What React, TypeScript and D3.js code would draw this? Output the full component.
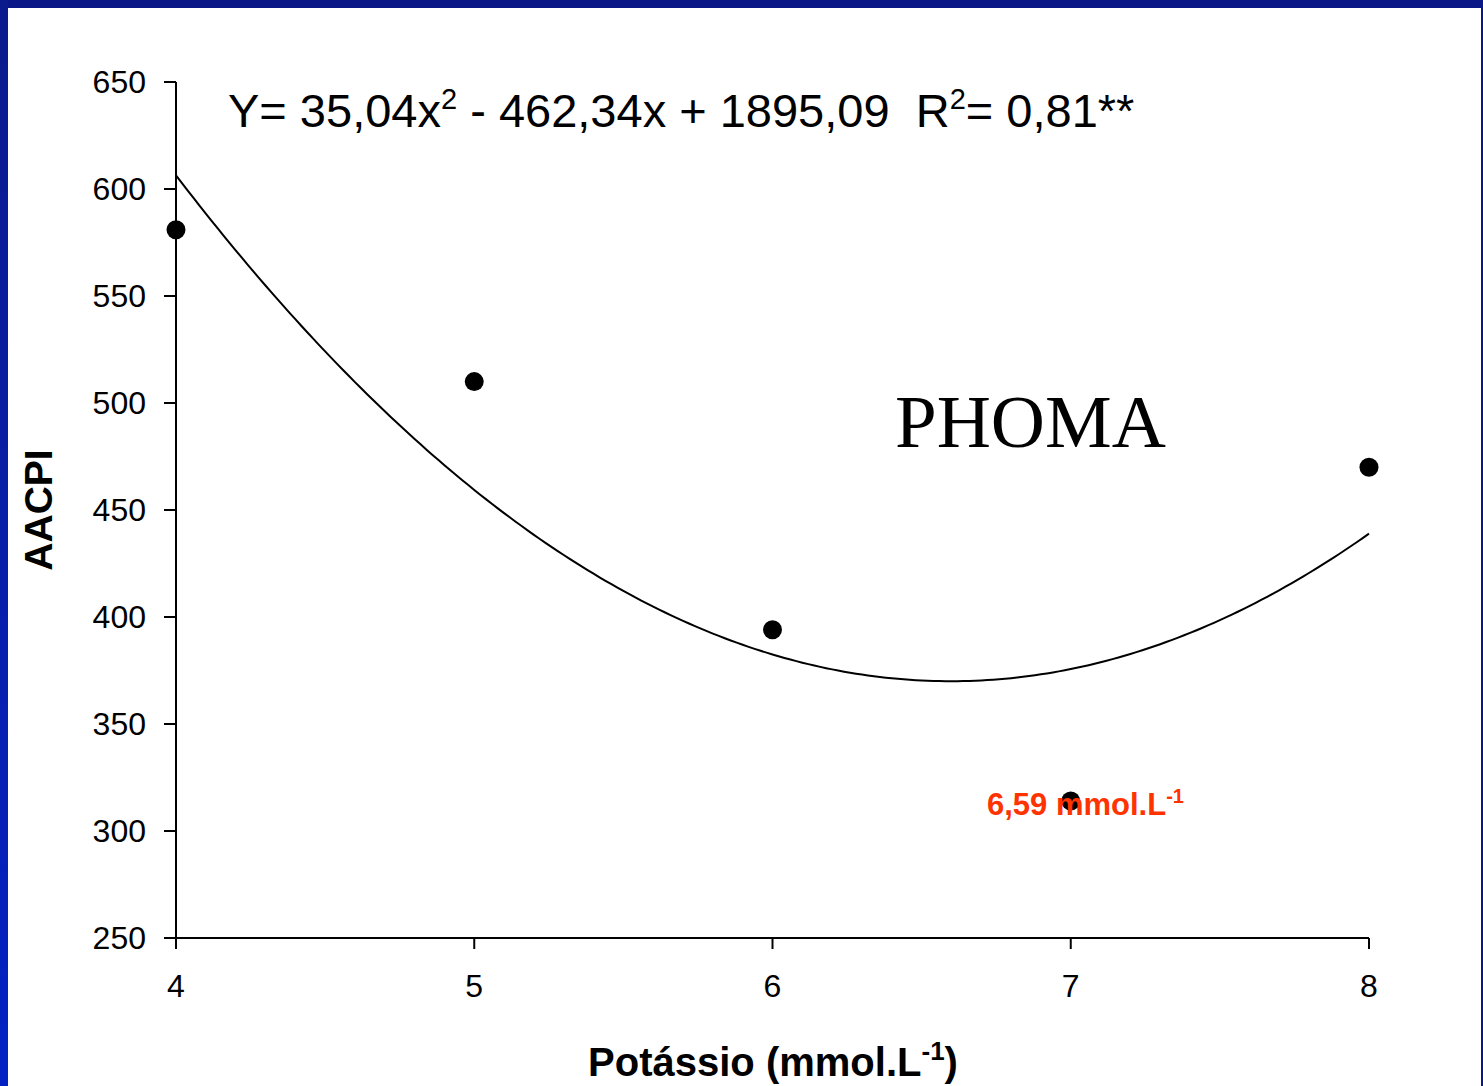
import { line, scaleLinear, range } from "d3";

const potassio = [4, 5, 6, 7, 8];
const aacpi = [581, 510, 394, 314, 470];
const yTicks = [250, 300, 350, 400, 450, 500, 550, 600, 650];
const xTicks = [4, 5, 6, 7, 8];
// fitted curve coefficients a, b, c (as printed on the chart)
const fitCoef = [35.04, -462.34, 1895.09];

const W = 1483;
const H = 1086;
const x0 = 176;
const x1 = 1369;
const yTop = 82;
const yBot = 938;

export default function App() {
  const xScale = scaleLinear().domain([4, 8]).range([x0, x1]);
  const yScale = scaleLinear().domain([250, 650]).range([yBot, yTop]);
  const curveXs = range(4, 8.0001, 0.02);
  const fit = (x: number) => fitCoef[0] * x * x + fitCoef[1] * x + fitCoef[2];
  const path = line<number>()
    .x((d) => xScale(d))
    .y((d) => yScale(fit(d)))(curveXs);

  return (
    <svg
      width={W}
      height={H}
      style={{ position: "absolute", left: 0, top: 0, display: "block" }}
      fontFamily="Arial, 'Liberation Sans', sans-serif"
    >
      <defs>
        <linearGradient id="leftEdge" x1="0" y1="0" x2="0" y2="1">
          <stop offset="0" stopColor="#0b1a8c" />
          <stop offset="1" stopColor="#0422c4" />
        </linearGradient>
      </defs>
      <rect x={0} y={0} width={W} height={H} fill="#ffffff" />
      <rect x={0} y={0} width={W} height={8} fill="#0a1786" />
      <rect x={0} y={0} width={8} height={H} fill="url(#leftEdge)" />
      <rect x={W - 2} y={0} width={2} height={H} fill="#0a1786" />

      {/* axes */}
      <line x1={x0} x2={x0} y1={yTop} y2={yBot + 11} stroke="#000" strokeWidth={2} />
      <line x1={x0 - 12} x2={x1} y1={yBot} y2={yBot} stroke="#000" strokeWidth={2} />
      {yTicks.map((t) => (
        <g key={`y-${t}`}>
          <line x1={x0 - 12} x2={x0} y1={yScale(t)} y2={yScale(t)} stroke="#000" strokeWidth={2} />
          <text
            x={146}
            y={yScale(t)}
            textAnchor="end"
            dominantBaseline="central"
            fontSize={32}
            fill="#000"
          >
            {t}
          </text>
        </g>
      ))}
      {xTicks.map((t) => (
        <g key={`x-${t}`}>
          <line x1={xScale(t)} x2={xScale(t)} y1={yBot} y2={yBot + 11} stroke="#000" strokeWidth={2} />
          <text
            x={xScale(t)}
            y={986}
            textAnchor="middle"
            dominantBaseline="central"
            fontSize={32}
            fill="#000"
          >
            {t}
          </text>
        </g>
      ))}

      {/* fitted curve */}
      <path d={path ?? ""} fill="none" stroke="#000" strokeWidth={2} />

      {/* observed points */}
      {potassio.map((p, i) => (
        <circle key={`pt-${p}`} cx={xScale(p)} cy={yScale(aacpi[i])} r={9.5} fill="#000" />
      ))}

      {/* equation */}
      <text x={228} y={127} fontSize={47} fill="#000" style={{ whiteSpace: "pre" }}>
        Y= 35,04x
        <tspan dy={-18} fontSize={29}>2</tspan>
        <tspan dy={18}>{" - 462,34x + 1895,09  R"}</tspan>
        <tspan dy={-18} fontSize={29}>2</tspan>
        <tspan dy={18}>= 0,81**</tspan>
      </text>

      <text
        x={895}
        y={447}
        fontSize={75}
        fontFamily="'Liberation Serif', 'Times New Roman', serif"
        fill="#000"
      >
        PHOMA
      </text>

      <text x={987} y={815} fontSize={31} fontWeight="bold" fill="#ff3300">
        6,59 mmol.L
        <tspan dy={-12} fontSize={20}>-1</tspan>
      </text>

      <text
        transform={`translate(52, 510) rotate(-90)`}
        textAnchor="middle"
        fontSize={39}
        fontWeight="bold"
        fill="#000"
      >
        AACPI
      </text>

      <text x={773} y={1076} textAnchor="middle" fontSize={40} fontWeight="bold" fill="#000">
        Potássio (mmol.L
        <tspan dy={-16} fontSize={26}>-1</tspan>
        <tspan dy={16}>)</tspan>
      </text>
    </svg>
  );
}
